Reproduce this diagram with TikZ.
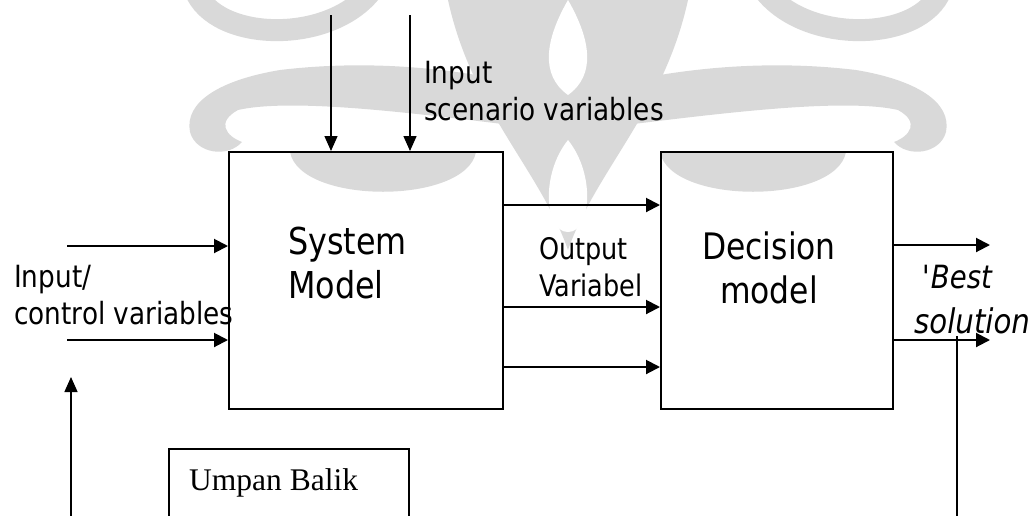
\documentclass[tikz,border=0pt]{standalone}
\usepackage{fontspec}
\setmainfont{DejaVu Sans}[FakeStretch=0.86]
\newfontfamily\umpanfont{Liberation Serif}
\usetikzlibrary{arrows.meta}

\begin{document}
\begin{tikzpicture}[x=1pt,y=-1pt,
  block/.style={draw, line width=2pt, inner sep=0pt, anchor=north west},
  txt/.style={anchor=base west, inner sep=0pt},
  midsize/.style={font=\fontsize{30.6}{37}\selectfont},
  bigsize/.style={font=\fontsize{37}{44}\selectfont},
  flow/.style={line width=2pt, -{Triangle[length=14pt,width=14pt]}},
  feed/.style={line width=1.4pt, -{Triangle[length=15pt,width=13pt]}},
  plain/.style={line width=1.4pt},
  ornament/.style={fill=black!15, draw=none},
]
\useasboundingbox (0,0) rectangle (1030,515);

% background ornament, symmetric about x = 568
\foreach \side/\shift in {1/0, -1/1136} {
  \begin{scope}[xshift=\shift pt, xscale=\side]
    % upper swirl
    \draw[black!15, line width=22pt] (195,-10) .. controls (215,42) and (330,45) .. (372,-10);
    % long curled band
    \fill[ornament] (568,96) .. controls (480,70) and (380,58) .. (280,70)
      .. controls (220,80) and (184,102) .. (190,132)
      .. controls (196,154) and (228,158) .. (242,142)
      .. controls (226,136) and (216,122) .. (238,110)
      .. controls (300,96) and (450,118) .. (568,132) -- cycle;
    % bowl in the upper part of the block
    \fill[ornament] (290,152) .. controls (300,205) and (466,205) .. (476,152) -- cycle;
  \end{scope}
}
% central drop
\fill[ornament] (448,0) .. controls (472,110) and (540,170) .. (568,250)
  .. controls (596,170) and (664,110) .. (688,0) -- cycle;
\fill[white] (568,140) .. controls (540,175) and (545,232) .. (568,232)
  .. controls (591,232) and (596,175) .. (568,140) -- cycle;
\fill[white] (568,0) .. controls (545,40) and (540,75) .. (568,95)
  .. controls (596,75) and (591,40) .. (568,0) -- cycle;

% blocks
\node[block, minimum width=274pt, minimum height=257pt] (sys) at (228,151) {};
\node[block, minimum width=232pt, minimum height=257pt] (dec) at (660,151) {};
\node[block, line width=1.5pt, minimum width=240pt, minimum height=120pt] (fb) at (168,448) {};

% labels
\node[txt, midsize] (scenA) at (424,83) {Input};
\node[txt, midsize] (scenB) at (424,120) {scenario variables};
\node[txt, midsize] (ctrlA) at (14,287) {Input/};
\node[txt, midsize] (ctrlB) at (14,324) {control variables};
\node[txt, bigsize] (sysA) at (288,254) {System};
\node[txt, bigsize] (sysB) at (288,298) {Model};
\node[txt, font=\fontsize{29.7}{36}\selectfont] (outA) at (539,259) {Output};
\node[txt, font=\fontsize{29.7}{36}\selectfont] (outB) at (539,296) {Variabel};
\node[anchor=base, inner sep=0pt, font=\fontsize{36.5}{44}\selectfont] (decA) at (769,259) {Decision};
\node[anchor=base, inner sep=0pt, font=\fontsize{36.5}{44}\selectfont] (decB) at (769,303) {model};
\node[txt, font=\fontsize{32}{38}\selectfont\itshape] (bestA) at (922,288) {\textquotesingle Best};
\node[txt, font=\fontsize{34}{40}\selectfont\itshape] (bestB) at (914,333) {solution};
\node[txt, font=\fontsize{31.5}{38}\selectfont\umpanfont] (fbA) at (189,490) {Umpan Balik};

% free ends of the connectors
\coordinate (scen1) at (331,15);
\coordinate (scen2) at (410,15);
\coordinate (ctrl1) at (67,246);
\coordinate (ctrl2) at (67,340);
\coordinate (mid1) at (0,205);
\coordinate (mid2) at (0,307);
\coordinate (mid3) at (0,367);
\coordinate (res1) at (990,245);
\coordinate (res2) at (990,340);
\coordinate (backLow) at (71,530);
\coordinate (backTop) at (71,377);
\coordinate (solTop) at (957,336);
\coordinate (solLow) at (957,530);

% scenario inputs
\draw[feed] (scen1) -- (scen1 |- sys.north);
\draw[feed] (scen2) -- (scen2 |- sys.north);

% control inputs
\draw[flow] (ctrl1) -- (ctrl1 -| sys.west);
\draw[flow] (ctrl2) -- (ctrl2 -| sys.west);

% system model to decision model
\draw[flow] (mid1 -| sys.east) -- (mid1 -| dec.west);
\draw[flow] (mid2 -| sys.east) -- (mid2 -| dec.west);
\draw[flow] (mid3 -| sys.east) -- (mid3 -| dec.west);

% results
\draw[flow] (res1 -| dec.east) -- (res1);
\draw[flow] (res2 -| dec.east) -- (res2);

% feedback loop
\draw[feed] (backLow) -- (backTop);
\draw[plain] (solTop) -- (solLow);
\end{tikzpicture}
\end{document}
